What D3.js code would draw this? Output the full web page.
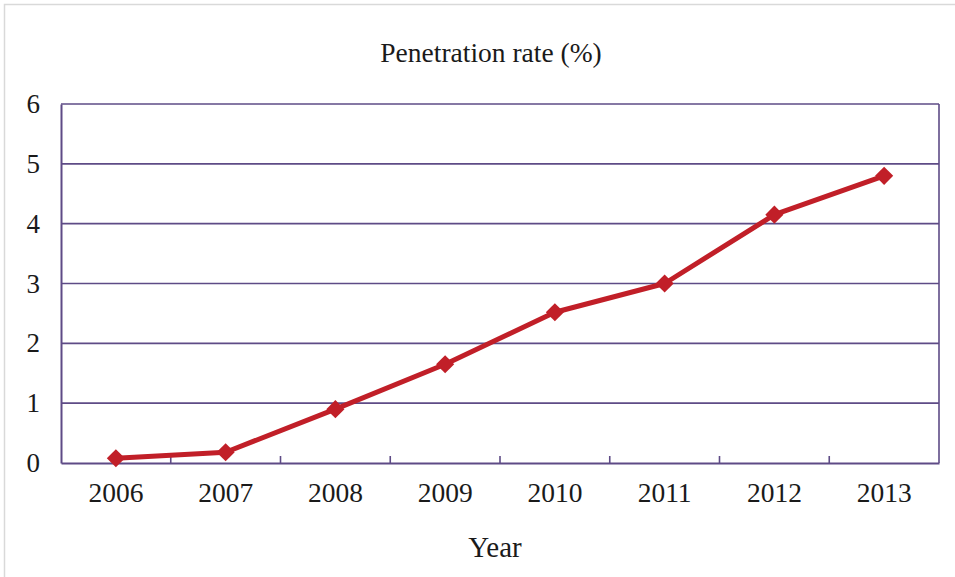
<!DOCTYPE html>
<html><head><meta charset="utf-8">
<script src="https://cdn.jsdelivr.net/npm/d3@7"></script>
<style>body{margin:0;background:#fff}svg{display:block}text{font-family:"Liberation Serif","Times New Roman",serif;fill:#1a1a1a}</style>
</head><body><svg id="c" width="955" height="577"></svg>
<script>
const years = ["2006","2007","2008","2009","2010","2011","2012","2013"];
const penetration = [0.08, 0.18, 0.9, 1.65, 2.52, 3.0, 4.15, 4.8];
const yTicks = [0,1,2,3,4,5,6];
const title = "Penetration rate (%)";
const xTitle = "Year";

const svg = d3.select("#c");
const m = {l:61, r:939, t:104, b:463};
svg.append("rect").attr("x",4.5).attr("y",4.5).attr("width",960).attr("height",600)
  .attr("fill","none").attr("stroke","#d9d9d9").attr("stroke-width",1.5);

const x = d3.scaleBand().domain(years).range([m.l,m.r]);
const y = d3.scaleLinear().domain([0,6]).range([m.b,m.t]);
const axisCol = "#5e4b86";

// gridlines
svg.append("g").selectAll("line").data(yTicks.filter(d=>d>0)).join("line")
  .attr("x1",m.l).attr("x2",m.r).attr("y1",d=>y(d)).attr("y2",d=>y(d))
  .attr("stroke",axisCol).attr("stroke-width",1.6);
// right border
svg.append("line").attr("x1",m.r).attr("x2",m.r).attr("y1",m.t).attr("y2",m.b).attr("stroke",axisCol).attr("stroke-width",1.6);

// y axis
const ya = svg.append("g").attr("transform",`translate(${m.l},0)`)
  .call(d3.axisLeft(y).tickValues(yTicks).tickSize(0).tickPadding(21).tickFormat(d3.format("d")));
ya.select(".domain").attr("stroke",axisCol).attr("stroke-width",2);
ya.selectAll("text").attr("font-size",27).attr("font-family","Liberation Serif").attr("fill","#1a1a1a");

// x axis
const xa = svg.append("g").attr("transform",`translate(0,${m.b})`)
  .call(d3.axisBottom(x).tickSize(0).tickPadding(19));
xa.select(".domain").attr("stroke",axisCol).attr("stroke-width",2);
xa.selectAll("text").attr("font-size",27.5).attr("font-family","Liberation Serif").attr("fill","#1a1a1a");
// boundary ticks (inside)
const bounds = years.map(d=>x(d)).slice(1);
svg.append("g").selectAll("line").data(bounds).join("line")
  .attr("x1",d=>d).attr("x2",d=>d).attr("y1",m.b).attr("y2",m.b-7)
  .attr("stroke",axisCol).attr("stroke-width",1.6);

// line
const cx = d=>x(d)+x.bandwidth()/2;
const line = d3.line().x((d,i)=>cx(years[i])).y(d=>y(d));
svg.append("path").datum(penetration).attr("d",line).attr("fill","none")
  .attr("stroke","#c11f28").attr("stroke-width",5).attr("stroke-linejoin","round");
svg.append("g").selectAll("path").data(penetration).join("path")
  .attr("d",d3.symbol(d3.symbolSquare,165)())
  .attr("transform",(d,i)=>`translate(${cx(years[i])},${y(d)}) rotate(45)`)
  .attr("fill","#c11f28");

svg.append("text").attr("x",491).attr("y",62).attr("text-anchor","middle").attr("font-size",27.5).text(title);
svg.append("text").attr("x",495).attr("y",557).attr("text-anchor","middle").attr("font-size",29).text(xTitle);
</script></body></html>
